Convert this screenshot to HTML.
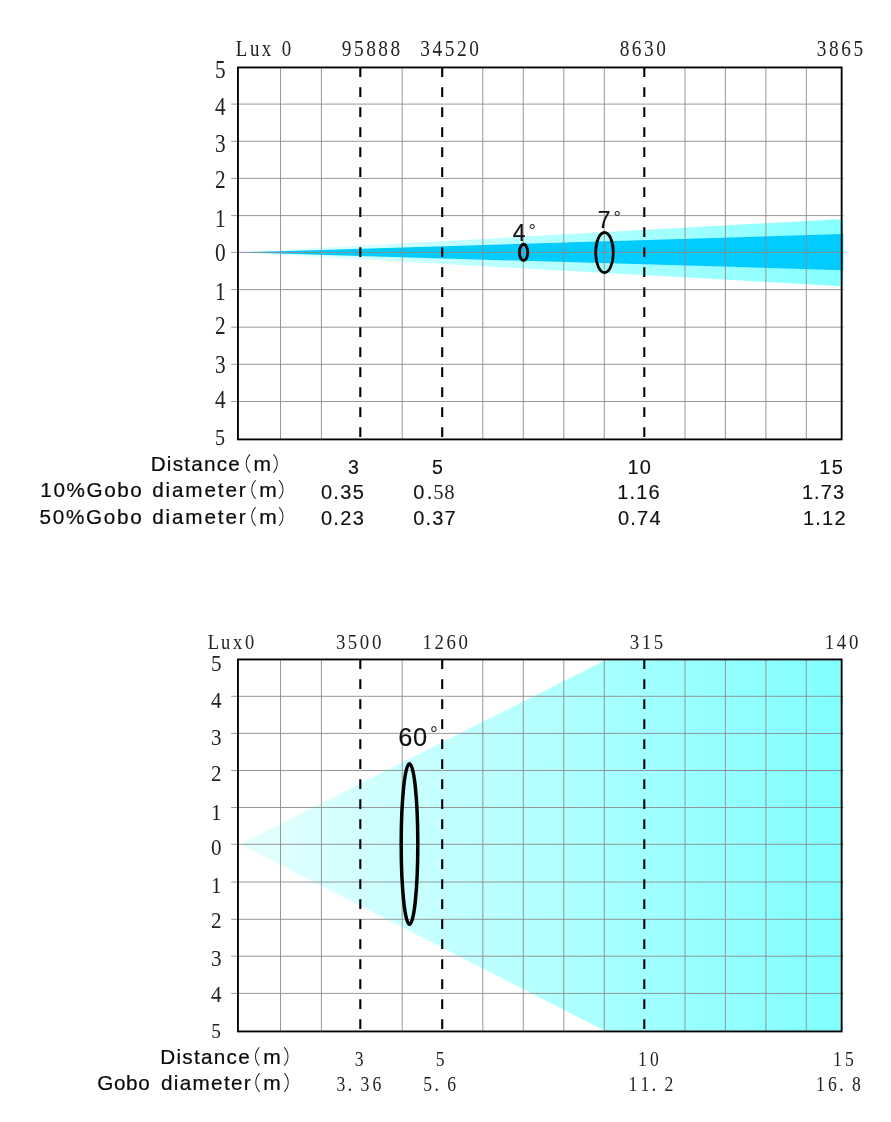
<!DOCTYPE html>
<html lang="en"><head><meta charset="utf-8"><title>Beam diagram</title>
<style>
html,body{margin:0;padding:0;background:#fff;}
body{width:891px;height:1122px;overflow:hidden;}
svg{display:block;}
.sf{font-family:"Liberation Serif", serif;fill:#222;}
.ss{font-family:"Liberation Sans", sans-serif;fill:#0a0a0a;stroke:#0a0a0a;stroke-width:0.22px;}
.sn{font-family:"Liberation Sans", sans-serif;fill:#111;stroke:#111;stroke-width:0.15px;}
.dg{font-family:"Liberation Sans", sans-serif;fill:#2a2a2a;stroke:none;}
.cj{font-family:"Liberation Sans", "Noto Sans CJK SC", sans-serif;fill:#111;font-weight:300;stroke:none;}
.g{stroke:#8c8c8c;stroke-width:0.9;fill:none;}
.f{stroke:#000;stroke-width:1.85;fill:none;}
.d{stroke:#000;stroke-width:2.1;stroke-dasharray:9.8 10.2;fill:none;}
.e{stroke:#000;fill:none;}
</style></head><body>
<svg width="891" height="1122" viewBox="0 0 891 1122">
<defs>
<linearGradient id="g1" gradientUnits="userSpaceOnUse" x1="238" y1="0" x2="842" y2="0"><stop offset="0" stop-color="#e6ffff"/><stop offset="1" stop-color="#86ffff"/></linearGradient>
<linearGradient id="g2" gradientUnits="userSpaceOnUse" x1="238" y1="0" x2="842" y2="0"><stop offset="0" stop-color="#e6ffff"/><stop offset="1" stop-color="#80ffff"/></linearGradient>
</defs>
<rect width="891" height="1122" fill="#fff"/>
<polygon fill="url(#g1)" points="238,252.4 843.2,219 843.2,286.3"/><polygon fill="#00ccff" points="238,252.4 843.2,234 843.2,270.2"/>
<line class="g" x1="280.5" y1="67.45" x2="280.5" y2="439.4"/>
<line class="g" x1="321.4" y1="67.45" x2="321.4" y2="439.4"/>
<line class="g" x1="402.2" y1="67.45" x2="402.2" y2="439.4"/>
<line class="g" x1="482.8" y1="67.45" x2="482.8" y2="439.4"/>
<line class="g" x1="523.3" y1="67.45" x2="523.3" y2="439.4"/>
<line class="g" x1="563.8" y1="67.45" x2="563.8" y2="439.4"/>
<line class="g" x1="604.3" y1="67.45" x2="604.3" y2="439.4"/>
<line class="g" x1="685.0" y1="67.45" x2="685.0" y2="439.4"/>
<line class="g" x1="725.4" y1="67.45" x2="725.4" y2="439.4"/>
<line class="g" x1="765.9" y1="67.45" x2="765.9" y2="439.4"/>
<line class="g" x1="806.3" y1="67.45" x2="806.3" y2="439.4"/>
<line class="g" x1="231.15" y1="104.1" x2="843.65" y2="104.1"/>
<line class="g" x1="231.15" y1="141.3" x2="843.65" y2="141.3"/>
<line class="g" x1="231.15" y1="178.4" x2="843.65" y2="178.4"/>
<line class="g" x1="231.15" y1="215.6" x2="843.65" y2="215.6"/>
<line class="g" x1="231.15" y1="252.4" x2="843.65" y2="252.4"/>
<line class="g" x1="231.15" y1="289.6" x2="843.65" y2="289.6"/>
<line class="g" x1="231.15" y1="327.2" x2="843.65" y2="327.2"/>
<line class="g" x1="231.15" y1="364.3" x2="843.65" y2="364.3"/>
<line class="g" x1="231.15" y1="401.5" x2="843.65" y2="401.5"/>
<rect class="f" x="237.95" y="67.45" width="603.7" height="371.95"/>
<line class="d" x1="360.3" y1="67.25" x2="360.3" y2="439.4"/>
<line class="d" x1="442.2" y1="67.25" x2="442.2" y2="439.4"/>
<line class="d" x1="644.3" y1="67.25" x2="644.3" y2="439.4"/>
<ellipse class="e" cx="523.6" cy="252.4" rx="4.1" ry="8.1" stroke-width="2.9"/>
<ellipse class="e" cx="604.5" cy="252.6" rx="8.8" ry="20.1" stroke-width="2.8"/>
<text class="sn" x="512.87" y="241.3" font-size="23">4<tspan class="dg" x="528.4" y="236.6" font-size="18.5" letter-spacing="0">°</tspan></text>
<text class="sn" x="597.82" y="227.5" font-size="23">7<tspan class="dg" x="613.6" y="223.6" font-size="18.5" letter-spacing="0">°</tspan></text>
<text class="sf" transform="scale(0.88,1)" x="250.45" y="78" font-size="24.2" text-anchor="middle">5</text>
<text class="sf" transform="scale(0.88,1)" x="250.45" y="115.4" font-size="24.2" text-anchor="middle">4</text>
<text class="sf" transform="scale(0.88,1)" x="250.45" y="151.6" font-size="24.2" text-anchor="middle">3</text>
<text class="sf" transform="scale(0.88,1)" x="250.45" y="188.3" font-size="24.2" text-anchor="middle">2</text>
<text class="sf" transform="scale(0.88,1)" x="250.45" y="226.8" font-size="24.2" text-anchor="middle">1</text>
<text class="sf" transform="scale(0.88,1)" x="250.45" y="260.9" font-size="24.2" text-anchor="middle">0</text>
<text class="sf" transform="scale(0.88,1)" x="250.45" y="299.9" font-size="24.2" text-anchor="middle">1</text>
<text class="sf" transform="scale(0.88,1)" x="250.45" y="334.5" font-size="24.2" text-anchor="middle">2</text>
<text class="sf" transform="scale(0.88,1)" x="250.45" y="372.9" font-size="24.2" text-anchor="middle">3</text>
<text class="sf" transform="scale(0.88,1)" x="250.45" y="408.2" font-size="24.2" text-anchor="middle">4</text>
<text class="sf" transform="scale(0.88,1)" x="250" y="444.7" font-size="22.8" text-anchor="middle">5</text>
<text class="sf" transform="scale(0.84,1)" x="287.62 303.33 317.26 329.17 340.95" y="56.1" font-size="22.5" text-anchor="middle">Lux 0</text>
<text class="sf" transform="scale(0.86,1)" x="403.02 417.21 431.4 445.58 459.77" y="56.1" font-size="22.5" text-anchor="middle">95888</text>
<text class="sf" transform="scale(0.86,1)" x="494.42 508.6 522.79 536.98 551.16" y="56.1" font-size="22.5" text-anchor="middle">34520</text>
<text class="sf" transform="scale(0.86,1)" x="726.16 740.35 754.53 768.72" y="56.1" font-size="22.5" text-anchor="middle">8630</text>
<text class="sf" transform="scale(0.86,1)" x="955.47 969.65 983.84 998.02" y="56.1" font-size="22.5" text-anchor="middle">3865</text>
<text class="ss" y="470.6" font-size="20.7"><tspan x="150.7" letter-spacing="1.24">Distance</tspan><tspan class="cj" x="231.6" font-size="20">（</tspan><tspan x="253.61" font-size="21">m</tspan><tspan class="cj" x="272.1" font-size="20">）</tspan></text>
<text class="ss" y="496.5" font-size="20.7"><tspan x="40.32" letter-spacing="1.58">10%Gobo </tspan><tspan x="152.13" letter-spacing="1.87">diameter</tspan><tspan class="cj" x="237" font-size="20">（</tspan><tspan x="259.31" font-size="21">m</tspan><tspan class="cj" x="277.8" font-size="20">）</tspan></text>
<text class="ss" y="523.6" font-size="20.7"><tspan x="39.57" letter-spacing="1.7">50%Gobo </tspan><tspan x="152.13" letter-spacing="1.87">diameter</tspan><tspan class="cj" x="237" font-size="20">（</tspan><tspan x="259.31" font-size="21">m</tspan><tspan class="cj" x="277.8" font-size="20">）</tspan></text>
<text class="sn" x="348.03" y="473.8" font-size="19.5">3</text>
<text class="sn" x="431.9" y="473.8" font-size="19.5">5</text>
<text class="sn" x="627.58" y="473.8" font-size="20" letter-spacing="1.06">10</text>
<text class="sn" x="819.28" y="473.8" font-size="20" letter-spacing="1.32">15</text>
<text class="sn" x="320.92" y="498.9" font-size="20" letter-spacing="1.33">0.35</text>
<text class="sn" x="413.32" y="498.9" font-size="20" letter-spacing="2.33">0.<tspan class="sf" x="438.4 449.3" font-size="20.6" letter-spacing="0" text-anchor="middle" stroke="none">58</tspan></text>
<text class="sn" x="617.18" y="498.9" font-size="20" letter-spacing="1.19">1.16</text>
<text class="sn" x="801.88" y="498.9" font-size="20" letter-spacing="1.09">1.73</text>
<text class="sn" x="320.92" y="524.6" font-size="20" letter-spacing="1.34">0.23</text>
<text class="sn" x="413.32" y="524.6" font-size="20" letter-spacing="1.09">0.37</text>
<text class="sn" x="617.92" y="524.6" font-size="20" letter-spacing="1.25">0.74</text>
<text class="sn" x="803.08" y="524.6" font-size="20" letter-spacing="1.17">1.12</text>
<polygon fill="url(#g2)" points="240,844.3 606.6,659.4 842.3,659.4 842.3,1031.6 606.6,1031.6"/>
<line class="g" x1="280.5" y1="659.45" x2="280.5" y2="1031.45"/>
<line class="g" x1="321.4" y1="659.45" x2="321.4" y2="1031.45"/>
<line class="g" x1="402.2" y1="659.45" x2="402.2" y2="1031.45"/>
<line class="g" x1="482.8" y1="659.45" x2="482.8" y2="1031.45"/>
<line class="g" x1="523.3" y1="659.45" x2="523.3" y2="1031.45"/>
<line class="g" x1="563.8" y1="659.45" x2="563.8" y2="1031.45"/>
<line class="g" x1="604.3" y1="659.45" x2="604.3" y2="1031.45"/>
<line class="g" x1="685.0" y1="659.45" x2="685.0" y2="1031.45"/>
<line class="g" x1="725.4" y1="659.45" x2="725.4" y2="1031.45"/>
<line class="g" x1="765.9" y1="659.45" x2="765.9" y2="1031.45"/>
<line class="g" x1="806.3" y1="659.45" x2="806.3" y2="1031.45"/>
<line class="g" x1="231.15" y1="696.3" x2="843.65" y2="696.3"/>
<line class="g" x1="231.15" y1="733.4" x2="843.65" y2="733.4"/>
<line class="g" x1="231.15" y1="770.5" x2="843.65" y2="770.5"/>
<line class="g" x1="231.15" y1="807.5" x2="843.65" y2="807.5"/>
<line class="g" x1="231.15" y1="844.3" x2="843.65" y2="844.3"/>
<line class="g" x1="231.15" y1="882.0" x2="843.65" y2="882.0"/>
<line class="g" x1="231.15" y1="919.3" x2="843.65" y2="919.3"/>
<line class="g" x1="231.15" y1="956.2" x2="843.65" y2="956.2"/>
<line class="g" x1="231.15" y1="993.4" x2="843.65" y2="993.4"/>
<rect class="f" x="237.95" y="659.45" width="603.7" height="372"/>
<line class="d" x1="360.3" y1="659.25" x2="360.3" y2="1031.45"/>
<line class="d" x1="442.2" y1="659.25" x2="442.2" y2="1031.45"/>
<line class="d" x1="644.3" y1="659.25" x2="644.3" y2="1031.45"/>
<ellipse class="e" cx="409.5" cy="844" rx="8.3" ry="80.3" stroke-width="3.5"/>
<text class="sn" x="398.31" y="745.7" font-size="25.4" letter-spacing="0.63">60<tspan class="dg" x="430" y="740.8" font-size="19.5" letter-spacing="0">°</tspan></text>
<text class="sf" transform="scale(0.88,1)" x="245.8" y="671.5" font-size="24" text-anchor="middle">5</text>
<text class="sf" transform="scale(0.88,1)" x="245.8" y="707.6" font-size="24" text-anchor="middle">4</text>
<text class="sf" transform="scale(0.88,1)" x="245.8" y="744.8" font-size="24" text-anchor="middle">3</text>
<text class="sf" transform="scale(0.88,1)" x="245.8" y="781.5" font-size="24" text-anchor="middle">2</text>
<text class="sf" transform="scale(0.88,1)" x="245.8" y="819.8" font-size="24" text-anchor="middle">1</text>
<text class="sf" transform="scale(0.88,1)" x="245.8" y="855.4" font-size="24" text-anchor="middle">0</text>
<text class="sf" transform="scale(0.88,1)" x="245.8" y="893.2" font-size="24" text-anchor="middle">1</text>
<text class="sf" transform="scale(0.88,1)" x="245.8" y="927.6" font-size="24" text-anchor="middle">2</text>
<text class="sf" transform="scale(0.88,1)" x="245.8" y="965.9" font-size="24" text-anchor="middle">3</text>
<text class="sf" transform="scale(0.88,1)" x="245.8" y="1002" font-size="24" text-anchor="middle">4</text>
<text class="sf" transform="scale(0.88,1)" x="245.45" y="1037.6" font-size="22" text-anchor="middle">5</text>
<text class="sf" transform="scale(0.9,1)" x="237.22 250.56 263.89 277.22" y="649" font-size="20.5" text-anchor="middle">Lux0</text>
<text class="sf" transform="scale(0.92,1)" x="370.22 383.26 396.3 409.35" y="649" font-size="20.5" text-anchor="middle">3500</text>
<text class="sf" transform="scale(0.92,1)" x="464.35 477.39 490.43 503.48" y="649" font-size="20.5" text-anchor="middle">1260</text>
<text class="sf" transform="scale(0.92,1)" x="689.57 702.61 715.65" y="649" font-size="20.5" text-anchor="middle">315</text>
<text class="sf" transform="scale(0.92,1)" x="901.74 914.78 927.83" y="649" font-size="20.5" text-anchor="middle">140</text>
<text class="ss" y="1064" font-size="20.7"><tspan x="160.2" letter-spacing="1.28">Distance</tspan><tspan class="cj" x="240.7" font-size="20">（</tspan><tspan x="263.21" font-size="21">m</tspan><tspan class="cj" x="282.7" font-size="20">）</tspan></text>
<text class="ss" y="1089.7" font-size="20.7"><tspan x="97.16" letter-spacing="0.66">Gobo </tspan><tspan x="161.03" letter-spacing="1.31">diameter</tspan><tspan class="cj" x="240.9" font-size="20">（</tspan><tspan x="263.21" font-size="21">m</tspan><tspan class="cj" x="282.9" font-size="20">）</tspan></text>
<text class="sf" transform="scale(0.86,1)" x="417.67" y="1065.6" font-size="20.5" text-anchor="middle">3</text>
<text class="sf" transform="scale(0.86,1)" x="511.86" y="1065.6" font-size="20.5" text-anchor="middle">5</text>
<text class="sf" transform="scale(0.86,1)" x="746.86 760.81" y="1065.6" font-size="20.5" text-anchor="middle">10</text>
<text class="sf" transform="scale(0.86,1)" x="973.84 987.79" y="1065.6" font-size="20.5" text-anchor="middle">15</text>
<text class="sf" transform="scale(0.86,1)" x="396.51 406.98 424.42 438.37" y="1090.7" font-size="20.5" text-anchor="middle">3.36</text>
<text class="sf" transform="scale(0.86,1)" x="497.33 507.79 525.23" y="1090.7" font-size="20.5" text-anchor="middle">5.6</text>
<text class="sf" transform="scale(0.86,1)" x="736.05 750 760.47 777.91" y="1090.7" font-size="20.5" text-anchor="middle">11.2</text>
<text class="sf" transform="scale(0.86,1)" x="954.07 968.02 978.49 995.93" y="1090.7" font-size="20.5" text-anchor="middle">16.8</text>
</svg></body></html>
